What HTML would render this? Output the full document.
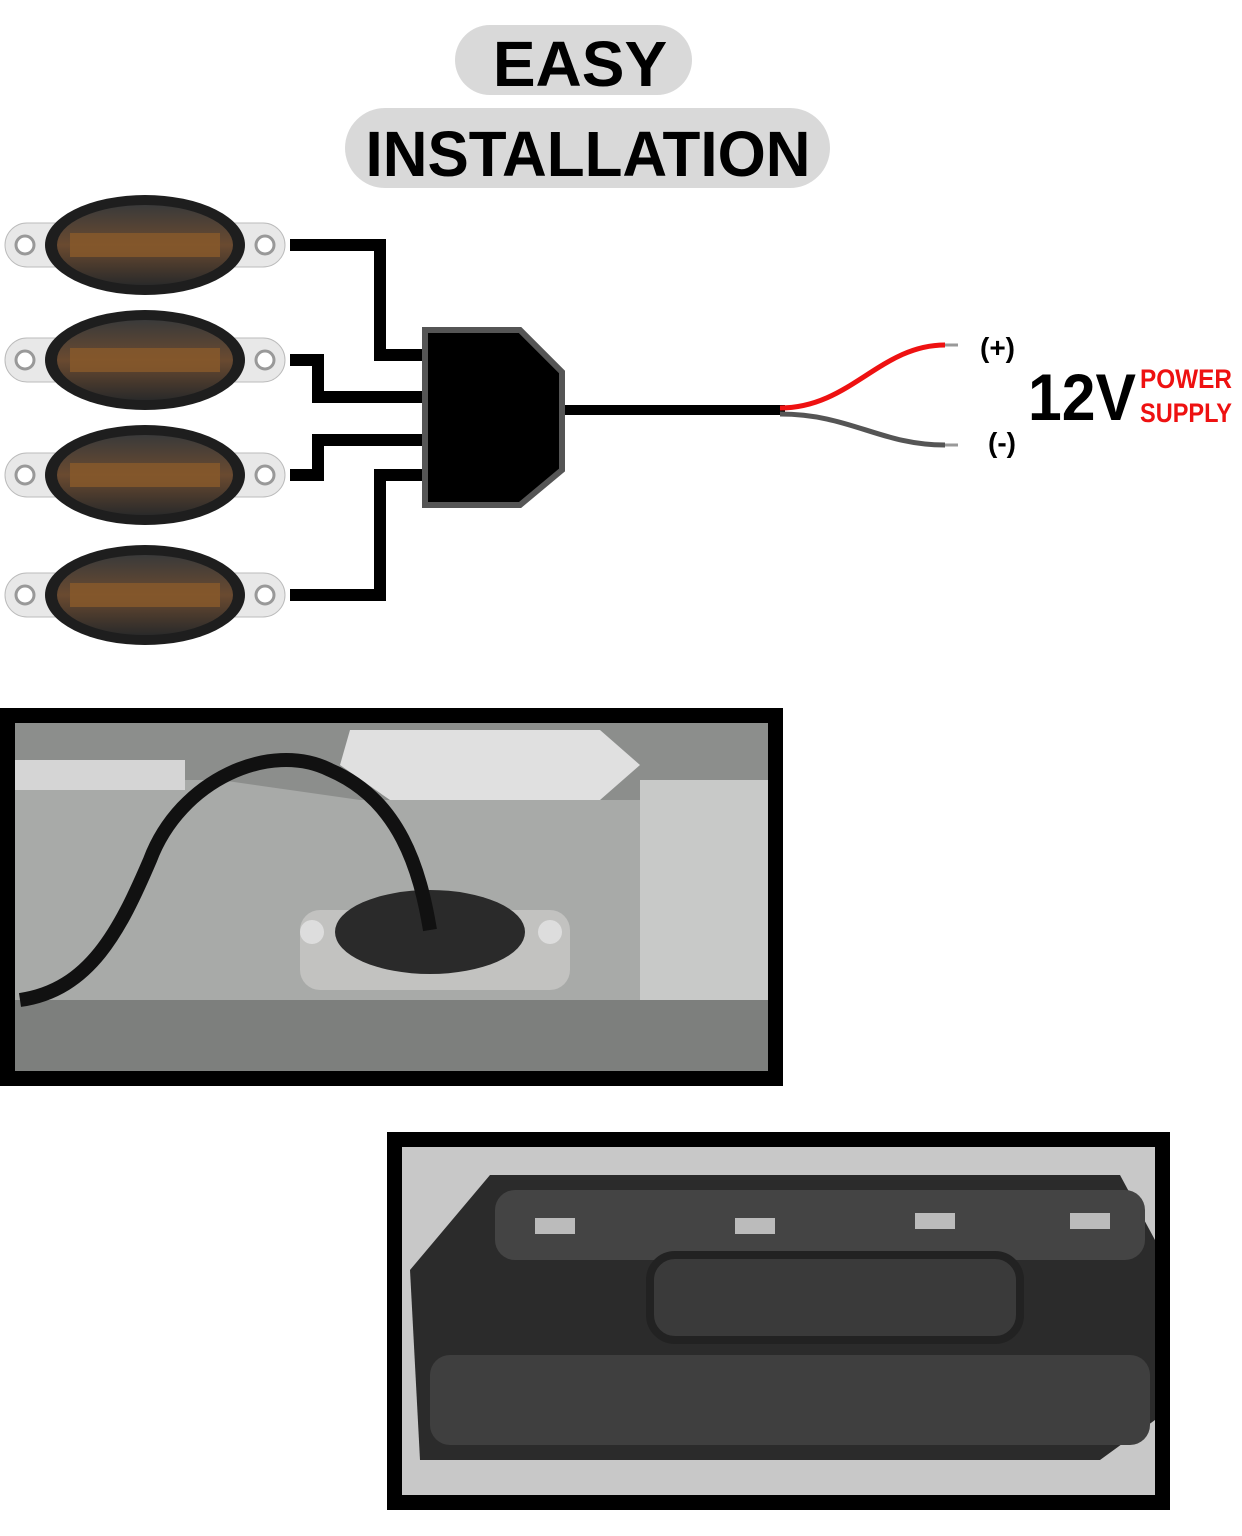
<!DOCTYPE html>
<html><head><meta charset="utf-8"><style>
html,body{margin:0;padding:0;background:#fff;}
svg{display:block;}
text{font-family:"Liberation Sans",sans-serif;font-weight:bold;}
</style></head><body>
<svg width="1242" height="1536" viewBox="0 0 1242 1536" xmlns="http://www.w3.org/2000/svg">
<defs>
<linearGradient id="lens" x1="0" y1="0" x2="0" y2="1">
<stop offset="0" stop-color="#3a3a3a"/><stop offset="0.5" stop-color="#6a4a30"/><stop offset="1" stop-color="#2a2a2a"/>
</linearGradient>
<g id="lamp">
<rect x="-140" y="-22" width="280" height="44" rx="22" fill="#e8e8e8" stroke="#bbb"/>
<circle cx="-120" cy="0" r="9" fill="#fff" stroke="#999" stroke-width="3"/>
<circle cx="120" cy="0" r="9" fill="#fff" stroke="#999" stroke-width="3"/>
<ellipse cx="0" cy="0" rx="100" ry="50" fill="#1e1e1e"/>
<ellipse cx="0" cy="0" rx="88" ry="40" fill="url(#lens)"/>
<rect x="-75" y="-12" width="150" height="24" fill="#8a5a2a" opacity="0.8"/>
</g>
</defs>
<!-- title -->
<rect x="455" y="25" width="237" height="70" rx="35" fill="#d9d9d9"/>
<text x="580" y="86" font-size="64" text-anchor="middle" fill="#000">EASY</text>
<rect x="345" y="108" width="485" height="80" rx="40" fill="#d9d9d9"/>
<text x="588" y="176" font-size="64" text-anchor="middle" fill="#000" textLength="445" lengthAdjust="spacingAndGlyphs">INSTALLATION</text>
<!-- lamps -->
<use href="#lamp" x="145" y="245"/>
<use href="#lamp" x="145" y="360"/>
<use href="#lamp" x="145" y="475"/>
<use href="#lamp" x="145" y="595"/>
<!-- wires -->
<g fill="none" stroke="#000" stroke-width="12">
<polyline points="290,245 380,245 380,355 430,355"/>
<polyline points="290,360 318,360 318,397 430,397"/>
<polyline points="290,475 318,475 318,440 430,440"/>
<polyline points="290,595 380,595 380,475 430,475"/>
</g>
<!-- connector -->
<polygon points="425,330 520,330 562,372 562,470 520,505 425,505" fill="#000" stroke="#555" stroke-width="6"/>
<line x1="565" y1="410" x2="785" y2="410" stroke="#000" stroke-width="10"/>
<path d="M780,408 C850,408 880,345 945,345" fill="none" stroke="#e11" stroke-width="5"/>
<path d="M780,414 C850,414 880,445 945,445" fill="none" stroke="#555" stroke-width="5"/>
<line x1="945" y1="345" x2="958" y2="345" stroke="#999" stroke-width="3"/>
<line x1="945" y1="445" x2="958" y2="445" stroke="#999" stroke-width="3"/>
<text x="980" y="357" font-size="28" fill="#000">(+)</text>
<text x="988" y="452" font-size="28" fill="#000">(-)</text>
<text x="1028" y="420" font-size="66" fill="#000" textLength="108" lengthAdjust="spacingAndGlyphs">12V</text>
<text x="1140" y="388" font-size="27" fill="#e11" textLength="92" lengthAdjust="spacingAndGlyphs">POWER</text>
<text x="1140" y="422" font-size="27" fill="#e11" textLength="92" lengthAdjust="spacingAndGlyphs">SUPPLY</text>
<!-- photo 1 -->
<rect x="0" y="708" width="783" height="378" fill="#000"/>
<rect x="15" y="723" width="753" height="348" fill="#a8aaa8"/>
<polygon points="15,723 768,723 768,780 640,800 360,800 220,780 15,780" fill="#8c8e8c"/>
<polygon points="350,730 600,730 640,765 600,800 390,800 340,765" fill="#e0e0e0"/>
<rect x="15" y="760" width="170" height="30" fill="#d5d5d5"/>
<rect x="640" y="780" width="128" height="291" fill="#c8c9c8"/>
<rect x="15" y="1000" width="753" height="71" fill="#7d7f7d"/>
<rect x="300" y="910" width="270" height="80" rx="20" fill="#c2c2c0"/>
<ellipse cx="430" cy="932" rx="95" ry="42" fill="#2a2a2a"/>
<circle cx="312" cy="932" r="12" fill="#ddd"/><circle cx="550" cy="932" r="12" fill="#ddd"/>
<path d="M20,1000 C90,990 120,930 150,860 C180,780 270,740 330,770 C400,800 420,870 430,930" fill="none" stroke="#111" stroke-width="14"/>
<!-- photo 2 -->
<rect x="387" y="1132" width="783" height="378" fill="#000"/>
<rect x="402" y="1147" width="753" height="348" fill="#c8c8c8"/>
<path d="M410,1270 L490,1175 L1120,1175 L1155,1240 L1155,1420 L1100,1460 L420,1460 Z" fill="#2b2b2b"/>
<rect x="495" y="1190" width="650" height="70" rx="20" fill="#444"/>
<rect x="650" y="1255" width="370" height="85" rx="25" fill="#3a3a3a" stroke="#222" stroke-width="8"/>
<rect x="430" y="1355" width="720" height="90" rx="20" fill="#3f3f3f"/>
<g fill="#bbb"><rect x="535" y="1218" width="40" height="16"/><rect x="735" y="1218" width="40" height="16"/><rect x="915" y="1213" width="40" height="16"/><rect x="1070" y="1213" width="40" height="16"/></g>
</svg>
</body></html>
